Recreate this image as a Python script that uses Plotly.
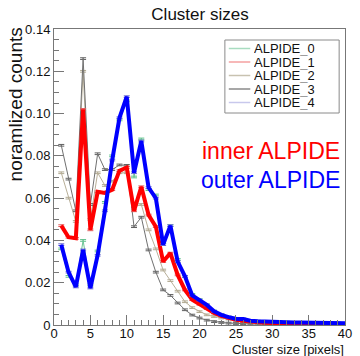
import plotly.graph_objects as go

# ---------------- data ----------------
cluster_size = list(range(1, 41))
series_names = ["ALPIDE_0", "ALPIDE_1", "ALPIDE_2", "ALPIDE_3", "ALPIDE_4"]

alpide_0 = [0.036, 0.023, 0.019, 0.040, 0.019, 0.035, 0.058, 0.080, 0.097, 0.106,
            0.070, 0.088, 0.064, 0.0615, 0.039, 0.047, 0.031, 0.023, 0.0145, 0.0120,
            0.0095, 0.0066, 0.0049, 0.0038, 0.0031, 0.0028, 0.0021, 0.0018, 0.0016, 0.0015,
            0.0014, 0.0013, 0.0012, 0.0012, 0.0011, 0.0010, 0.0010, 0.0009, 0.0009, 0.0008]
alpide_1 = [0.047, 0.0415, 0.041, 0.102, 0.045, 0.063, 0.0625, 0.064, 0.073, 0.0745,
            0.054, 0.0654, 0.052, 0.0465, 0.030, 0.034, 0.0237, 0.0166, 0.0120, 0.0098,
            0.0078, 0.0057, 0.0043, 0.0032, 0.0025, 0.0020, 0.0016, 0.0013, 0.0011, 0.0010,
            0.0009, 0.0008, 0.0008, 0.0007, 0.0007, 0.0006, 0.0006, 0.0005, 0.0005, 0.0005]
alpide_2 = [0.072, 0.060, 0.049, 0.120, 0.050, 0.072, 0.066, 0.068, 0.072, 0.072,
            0.056, 0.057, 0.045, 0.036, 0.026, 0.021, 0.016, 0.011, 0.0082, 0.0063,
            0.0048, 0.0040, 0.0033, 0.0028, 0.0022, 0.0019, 0.0015, 0.0012, 0.0010, 0.0009,
            0.0008, 0.0007, 0.0006, 0.0006, 0.0005, 0.0005, 0.0004, 0.0004, 0.0004, 0.0003]
alpide_3 = [0.085, 0.069, 0.054, 0.126, 0.057, 0.081, 0.0735, 0.0735, 0.0757, 0.0755,
            0.0465, 0.051, 0.0355, 0.025, 0.0166, 0.014, 0.0104, 0.0072, 0.0047, 0.0033,
            0.0023, 0.0016, 0.0012, 0.0009, 0.0007, 0.0006, 0.0005, 0.0004, 0.0004, 0.0003,
            0.0003, 0.0003, 0.0002, 0.0002, 0.0002, 0.0002, 0.0001, 0.0001, 0.0001, 0.0001]
alpide_4 = [0.038, 0.025, 0.018, 0.0355, 0.0175, 0.033, 0.054, 0.078, 0.098, 0.108,
            0.072, 0.087, 0.065, 0.060, 0.038, 0.047, 0.030, 0.023, 0.0140, 0.0118,
            0.0095, 0.0065, 0.0048, 0.0037, 0.0030, 0.0028, 0.0020, 0.0018, 0.0016, 0.0015,
            0.0014, 0.0013, 0.0012, 0.0012, 0.0011, 0.0010, 0.0010, 0.0009, 0.0009, 0.0008]

y_tick_vals = [0, 0.02, 0.04, 0.06, 0.08, 0.10, 0.12, 0.14]
y_tick_text = ["0", "0.02", "0.04", "0.06", "0.08", "0.10", "0.12", "0.14"]

# ---------------- styles ----------------
values = [alpide_0, alpide_1, alpide_2, alpide_3, alpide_4]
line_colors = ["#6cc495", "#ff0000", "#b8af98", "#707070", "#0000ff"]
err_colors = ["#5cc08a", "#e06060", "#b0a890", "#606060", "#6a6ad0"]
line_widths = [1, 4, 1, 1, 4]
legend_colors = ["#a8dcc0", "#f4a0a0", "#c8c2b0", "#8a8a8a", "#c8c8ec"]
draw_order = [0, 2, 3, 1, 4]

FONT = "Liberation Sans, Arial, sans-serif"

fig = go.Figure()
for i in draw_order:
    fig.add_trace(go.Scatter(
        x=cluster_size, y=values[i], mode="lines", name=series_names[i],
        line=dict(color=line_colors[i], width=line_widths[i]),
        error_y=dict(type="constant", value=0.0004, color=err_colors[i],
                     thickness=1, width=3),
        showlegend=False,
    ))

# plot area in pixels
W, H = 360, 356
L, R, T, B = 54, 8, 29, 31
pw, ph = W - L - R, H - T - B


def px2x(px):
    return (px - L) / pw


def px2y(py):
    return (H - B - py) / ph


shapes = []
annotations = []

# manual legend (compact like ROOT's TLegend)
shapes.append(dict(type="rect", xref="paper", yref="paper",
                   x0=px2x(229), x1=px2x(346), y0=px2y(113), y1=px2y(40),
                   line=dict(color="#8a8a8a", width=1), fillcolor="white", layer="above"))
row_y = [48.5, 62, 75.5, 89, 102.5]
for name, col, ry in zip(series_names, legend_colors, row_y):
    shapes.append(dict(type="line", xref="paper", yref="paper",
                       x0=px2x(233), x1=px2x(255), y0=px2y(ry), y1=px2y(ry),
                       line=dict(color=col, width=1.5), layer="above"))
    annotations.append(dict(text=name, xref="paper", yref="paper",
                            x=px2x(257), y=px2y(ry), xanchor="left", yanchor="middle",
                            height=13.4, valign="middle",
                            showarrow=False, font=dict(family=FONT, size=13, color="#111")))

annotations += [
    dict(text="inner ALPIDE", xref="paper", yref="paper", x=px2x(349), y=px2y(151),
         xanchor="right", yanchor="middle", showarrow=False,
         font=dict(family=FONT, size=23, color="#ff0000")),
    dict(text="outer ALPIDE", xref="paper", yref="paper", x=px2x(349), y=px2y(180),
         xanchor="right", yanchor="middle", showarrow=False,
         font=dict(family=FONT, size=23, color="#0000ff")),
    dict(text="noramlized counts", xref="paper", yref="paper", x=px2x(14.5), y=px2y(104),
         xanchor="center", yanchor="middle", textangle=-90, showarrow=False,
         font=dict(family=FONT, size=19, color="#111")),
    dict(text="Cluster size [pixels]", xref="paper", yref="paper", x=px2x(353), y=px2y(349),
         xanchor="right", yanchor="middle", showarrow=False,
         font=dict(family=FONT, size=13, color="#111")),
]

axis_common = dict(showgrid=False, zeroline=False, showline=True, mirror=True,
                   linecolor="#777", linewidth=1, ticks="inside", tickcolor="#777",
                   tickfont=dict(family=FONT, size=13, color="#111"))

fig.update_layout(
    width=W, height=H,
    margin=dict(l=L, r=R, t=T, b=B, pad=0),
    paper_bgcolor="white", plot_bgcolor="white",
    title=dict(text="Cluster sizes", x=200 / W, xanchor="center",
               y=1 - 14 / H, yanchor="middle",
               font=dict(family=FONT, size=17, color="#111")),
    xaxis=dict(range=[0, 40], tick0=0, dtick=5, ticklen=10, ticklabelstandoff=-4,
               minor=dict(dtick=1, ticklen=5, ticks="inside", tickcolor="#777"),
               **axis_common),
    yaxis=dict(range=[0, 0.14], tickvals=y_tick_vals, ticktext=y_tick_text, ticklen=10,
               minor=dict(dtick=0.005, ticklen=5, ticks="inside", tickcolor="#777"),
               **axis_common),
    shapes=shapes,
    annotations=annotations,
    showlegend=False,
)

fig.write_html("out.html", config={"displayModeBar": False},
               post_script="document.body.style.margin='0';document.body.style.padding='0';")
